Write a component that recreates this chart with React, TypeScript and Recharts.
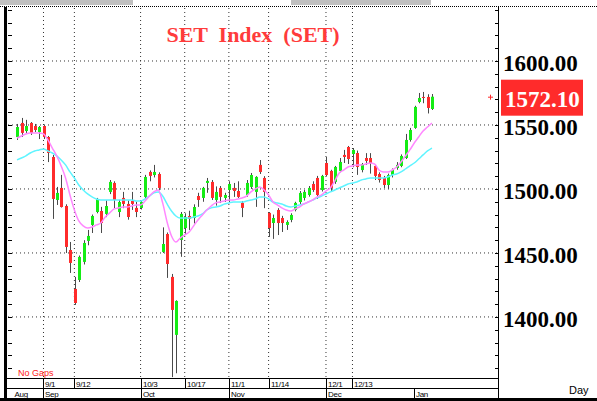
import { ComposedChart, Bar, Line, XAxis, YAxis, CartesianGrid, ReferenceLine } from "recharts"

// trading days, Aug 2016 - Jan 2017
const dates = [
  "8/24", "8/25", "8/26", "8/29", "8/30", "8/31", "9/1", "9/2", "9/5", "9/6",
  "9/7", "9/8", "9/9", "9/12", "9/13", "9/14", "9/15", "9/16", "9/19", "9/20",
  "9/21", "9/22", "9/23", "9/26", "9/27", "9/28", "9/29", "9/30", "10/3", "10/4",
  "10/5", "10/6", "10/7", "10/10", "10/11", "10/12", "10/13", "10/14", "10/17", "10/18",
  "10/19", "10/20", "10/21", "10/25", "10/26", "10/27", "10/28", "10/31", "11/1", "11/2",
  "11/3", "11/4", "11/7", "11/8", "11/9", "11/10", "11/11", "11/14", "11/15", "11/16",
  "11/17", "11/18", "11/21", "11/22", "11/23", "11/24", "11/25", "11/28", "11/29", "11/30",
  "12/1", "12/2", "12/6", "12/7", "12/8", "12/9", "12/13", "12/14", "12/15", "12/16",
  "12/19", "12/20", "12/21", "12/22", "12/23", "12/26", "12/27", "12/28", "12/29", "12/30",
  "1/3", "1/4", "1/5", "1/6", "1/9",
]

const opens = [
  1540.6, 1551.6, 1545.3, 1551.6, 1549.2, 1544.5, 1549.2, 1540.6, 1525.0, 1491.4,
  1500.8, 1486.7, 1452.3, 1421.9, 1428.9, 1443.0, 1459.4, 1471.9, 1482.0, 1482.8,
  1480.5, 1497.7, 1504.7, 1482.0, 1493.0, 1488.3, 1490.6, 1485.2, 1485.2, 1493.8,
  1513.3, 1510.9, 1511.7, 1450.8, 1464.8, 1431.3, 1386.0, 1460.2, 1469.5, 1478.9,
  1477.3, 1494.5, 1493.0, 1504.7, 1505.5, 1491.4, 1500.8, 1493.0, 1499.2, 1500.8,
  1498.4, 1489.1, 1495.3, 1501.6, 1497.7, 1518.8, 1508.6, 1481.3, 1473.4, 1483.6,
  1477.3, 1471.9, 1475.8, 1483.6, 1489.8, 1493.0, 1495.3, 1503.9, 1508.6, 1499.2,
  1520.3, 1514.1, 1505.5, 1514.1, 1526.6, 1532.8, 1527.3, 1528.1, 1514.8, 1524.2,
  1524.2, 1518.0, 1511.7, 1508.6, 1503.1, 1510.9, 1516.4, 1518.0, 1524.2, 1538.3,
  1547.7, 1568.0, 1571.9, 1571.9, 1562.5,
]

const highs = [
  1550.8, 1555.5, 1554.0, 1552.3, 1550.8, 1549.2, 1550.0, 1541.4, 1526.6, 1501.6,
  1511.0, 1488.0, 1458.6, 1431.3, 1448.0, 1460.0, 1468.0, 1480.0, 1493.0, 1486.0,
  1491.0, 1507.0, 1506.0, 1491.5, 1497.7, 1491.0, 1497.7, 1490.0, 1491.0, 1511.0,
  1514.5, 1518.8, 1513.0, 1470.0, 1466.0, 1433.6, 1413.0, 1482.0, 1481.0, 1483.0,
  1488.0, 1497.0, 1501.6, 1508.6, 1507.0, 1502.0, 1502.3, 1497.0, 1506.0, 1504.7,
  1506.0, 1490.6, 1507.0, 1512.5, 1510.0, 1522.6, 1510.0, 1482.0, 1480.0, 1485.0,
  1479.0, 1475.5, 1481.0, 1490.0, 1498.4, 1499.2, 1502.3, 1506.0, 1510.2, 1511.0,
  1525.0, 1515.0, 1518.0, 1524.2, 1530.5, 1533.6, 1532.0, 1530.0, 1520.3, 1528.0,
  1528.0, 1519.5, 1513.0, 1510.2, 1512.0, 1516.0, 1521.0, 1527.0, 1543.0, 1547.7,
  1565.0, 1575.0, 1575.8, 1574.0, 1574.2,
]

const lows = [
  1538.3, 1540.6, 1543.8, 1542.2, 1544.5, 1539.0, 1539.0, 1521.0, 1476.6, 1487.5,
  1485.5, 1450.0, 1434.4, 1409.4, 1427.3, 1441.0, 1456.0, 1465.6, 1481.0, 1465.6,
  1478.0, 1496.0, 1485.0, 1478.0, 1485.0, 1476.0, 1483.6, 1478.0, 1484.0, 1492.0,
  1506.0, 1509.0, 1499.0, 1450.0, 1430.5, 1353.0, 1356.0, 1447.0, 1464.0, 1468.0,
  1473.0, 1486.0, 1490.0, 1497.0, 1491.4, 1487.0, 1489.0, 1489.8, 1489.0, 1493.8,
  1493.0, 1478.0, 1494.0, 1500.0, 1486.0, 1511.7, 1485.0, 1462.5, 1461.0, 1464.0,
  1466.4, 1468.0, 1474.0, 1482.5, 1488.3, 1491.0, 1494.0, 1497.7, 1492.2, 1498.0,
  1510.0, 1497.7, 1504.0, 1513.0, 1520.3, 1519.5, 1517.0, 1511.0, 1513.0, 1518.8,
  1512.0, 1507.0, 1505.0, 1500.8, 1500.0, 1509.0, 1515.0, 1517.0, 1523.4, 1537.0,
  1547.0, 1567.0, 1567.0, 1559.0, 1561.7,
]

const closes = [
  1548.4, 1543.8, 1549.2, 1543.8, 1546.1, 1548.4, 1540.6, 1528.1, 1492.2, 1496.9,
  1485.9, 1454.7, 1442.2, 1410.9, 1446.9, 1457.8, 1463.3, 1478.9, 1492.2, 1473.4,
  1486.7, 1505.5, 1491.4, 1489.8, 1488.3, 1478.1, 1488.3, 1482.0, 1489.8, 1509.4,
  1510.2, 1513.3, 1500.8, 1457.0, 1441.4, 1405.5, 1412.5, 1480.5, 1478.1, 1476.6,
  1485.9, 1491.4, 1500.8, 1506.3, 1493.0, 1497.7, 1493.8, 1495.3, 1503.9, 1498.4,
  1493.8, 1485.2, 1504.7, 1510.9, 1509.4, 1513.3, 1497.7, 1469.5, 1477.3, 1473.4,
  1473.4, 1474.2, 1479.7, 1489.1, 1496.9, 1497.7, 1500.8, 1499.2, 1495.3, 1510.2,
  1510.9, 1500.8, 1517.2, 1521.1, 1525.0, 1523.4, 1530.5, 1517.2, 1519.5, 1521.9,
  1520.3, 1510.2, 1507.0, 1503.1, 1510.9, 1514.8, 1518.8, 1525.8, 1538.3, 1546.1,
  1564.1, 1571.1, 1571.1, 1563.3, 1572.1,
]

// short moving average (pink)
const maShort = [
  1539.8, 1541.4, 1543.0, 1543.8, 1543.8, 1543.8, 1543.0, 1538.3, 1532.0, 1525.8,
  1518.0, 1508.6, 1495.3, 1483.6, 1475.0, 1471.1, 1469.5, 1470.3, 1471.9, 1473.4,
  1478.1, 1481.3, 1484.4, 1485.2, 1485.9, 1485.9, 1486.7, 1487.5, 1487.5, 1490.6,
  1494.5, 1497.7, 1499.2, 1489.1, 1474.2, 1463.3, 1458.6, 1461.7, 1464.1, 1466.4,
  1471.1, 1475.8, 1479.7, 1483.6, 1486.7, 1489.1, 1489.8, 1490.6, 1491.4, 1491.4,
  1492.2, 1493.0, 1494.5, 1497.7, 1500.0, 1501.6, 1499.2, 1495.3, 1489.8, 1487.5,
  1485.2, 1483.6, 1482.8, 1484.4, 1485.9, 1488.3, 1489.8, 1491.4, 1493.8, 1495.3,
  1498.4, 1500.8, 1506.3, 1512.5, 1514.8, 1517.2, 1518.0, 1518.8, 1518.8, 1519.5,
  1520.3, 1519.5, 1514.8, 1513.3, 1513.3, 1514.8, 1517.2, 1521.1, 1525.8, 1530.5,
  1535.9, 1540.6, 1545.3, 1548.4, 1551.6,
]

// long moving average (cyan)
const maLong = [
  1522.7, 1524.2, 1525.8, 1528.1, 1529.7, 1530.5, 1531.3, 1529.7, 1528.1, 1525.8,
  1522.7, 1518.8, 1513.3, 1508.6, 1503.1, 1499.2, 1496.1, 1493.8, 1492.2, 1491.4,
  1491.4, 1491.4, 1491.4, 1491.4, 1491.4, 1491.4, 1491.4, 1490.6, 1490.6, 1492.2,
  1494.5, 1496.9, 1497.7, 1494.5, 1488.3, 1482.8, 1478.9, 1477.3, 1477.3, 1477.3,
  1478.1, 1478.9, 1480.5, 1483.6, 1485.2, 1485.9, 1486.7, 1488.3, 1489.1, 1489.8,
  1489.8, 1489.8, 1490.6, 1491.4, 1492.2, 1493.8, 1493.8, 1492.2, 1489.8, 1489.1,
  1488.3, 1486.7, 1485.9, 1486.7, 1487.5, 1488.3, 1489.8, 1491.4, 1493.0, 1494.5,
  1496.1, 1497.7, 1499.2, 1500.8, 1502.3, 1503.9, 1504.7, 1505.5, 1507.0, 1507.8,
  1508.6, 1508.6, 1508.6, 1508.6, 1509.4, 1510.9, 1511.7, 1513.3, 1515.6, 1518.0,
  1520.3, 1523.4, 1526.6, 1529.7, 1532.0,
]

const dayLabels = ["9/1", "9/12", "10/3", "10/17", "11/1", "11/14", "12/1", "12/13"]
const monthLabels = ["Aug", "Sep", "Oct", "Nov", "Dec", "Jan"]
const monthStarts = ["8/24", "9/1", "10/3", "11/1", "12/1", "1/3"]
const priceLabels = [1400, 1450, 1500, 1550, 1600]
const minorTicks = Array.from({ length: 29 }, (_, k) => 1360 + k * 10)

const Y_DOMAIN: [number, number] = [1352.3, 1641.4]
const X_DOMAIN: [number, number] = [-2.04, 109.2]

const GREEN = "#14ec14"
const RED = "#ff2b2b"

const data = dates.map((d, i) => ({
  i,
  date: d,
  open: opens[i],
  high: highs[i],
  low: lows[i],
  close: closes[i],
  range: [lows[i], highs[i]],
  maShort: maShort[i],
  maLong: maLong[i],
}))

const dayTickIdx = dayLabels.map((l) => dates.indexOf(l))
const monthTickIdx = monthStarts.map((l) => dates.indexOf(l))
const lastClose = closes[closes.length - 1]

const Candle = (props: any) => {
  const { x, y, width, height, payload } = props
  if (x == null || payload == null) return null
  const { open, close, high, low } = payload
  const h = Math.abs(height)
  const top = height >= 0 ? y : y + height
  const k = h / (high - low || 1)
  const py = (v: number) => top + (high - v) * k
  const cx = Math.round(x + width / 2)
  const up = close >= open
  const bTop = py(Math.max(open, close))
  const bH = Math.max(1, Math.abs(py(open) - py(close)))
  return (
    <g>
      <line x1={cx + 0.5} x2={cx + 0.5} y1={top} y2={top + h} stroke="#4a4a4a" strokeWidth={1} />
      <rect x={cx - 1} y={bTop} width={3} height={bH} fill={up ? GREEN : RED} />
    </g>
  )
}

const RightTick = (props: any) => {
  const { x, y, payload } = props
  const v = payload.value as number
  const yy = Math.round(y) + 0.5
  return (
    <g>
      <line x1={x - 4} x2={x} y1={yy} y2={yy} stroke="#000" />
      {v % 50 === 0 && (
        <text x={x + 4} y={y + 10} fontFamily="'Liberation Serif', serif" fontWeight="bold" fontSize={23} fill="#000">
          {v.toFixed(2)}
        </text>
      )}
    </g>
  )
}

const LeftTick = (props: any) => {
  const { x, y } = props
  const yy = Math.round(y) + 0.5
  return <line x1={x} x2={x + 4} y1={yy} y2={yy} stroke="#000" />
}

const DayTick = (props: any) => {
  const { x, y, payload } = props
  const lx = Math.round(x) + 0.5
  return (
    <g>
      <line x1={lx} x2={lx} y1={y} y2={y + 10} stroke="#000" />
      <text x={lx + 1.5} y={y + 8.5} fontFamily="'Liberation Sans', sans-serif" fontSize={8} letterSpacing={-0.3} fill="#000">
        {dates[payload.value]}
      </text>
    </g>
  )
}

const MonthTick = (props: any) => {
  const { x, y, payload, index } = props
  const lx = Math.round(x) + 0.5
  const first = index === 0
  return (
    <g>
      {!first && <line x1={lx} x2={lx} y1={y} y2={y + 10} stroke="#000" />}
      <text x={first ? lx - 3 : lx + 1.5} y={y + 8.5} fontFamily="'Liberation Sans', sans-serif" fontSize={8} letterSpacing={-0.3} fill="#000">
        {monthLabels[monthTickIdx.indexOf(payload.value)]}
      </text>
    </g>
  )
}

const PriceTag = (props: any) => {
  const vb = props.viewBox
  if (!vb) return null
  const x = vb.x + vb.width
  const y = vb.y
  return (
    <g>
      <line x1={x - 11} x2={x - 6} y1={y + 0.5} y2={y + 0.5} stroke={RED} />
      <line x1={x - 8.5} x2={x - 8.5} y1={y - 2} y2={y + 3} stroke={RED} />
      <rect x={x + 2} y={y - 17} width={82} height={36} fill={RED} />
      <text x={x + 6} y={y + 10} fontFamily="'Liberation Serif', serif" fontWeight="bold" fontSize={23} fill="#fff">
        {lastClose.toFixed(2)}
      </text>
    </g>
  )
}

export default function App() {
  return (
    <div style={{ position: "relative", width: 597, height: 401, background: "#fff", overflow: "hidden" }}>
      <style>{"body{margin:0}"}</style>
      <ComposedChart width={597} height={401} data={data} margin={{ top: 8, right: 0, bottom: 3, left: 0 }}>
        <CartesianGrid
          xAxisId="d"
          yAxisId="r"
          horizontalValues={priceLabels}
          verticalValues={dayTickIdx}
          stroke="#333"
          strokeDasharray="1 3"
        />
        <XAxis
          xAxisId="d"
          dataKey="i"
          type="number"
          domain={X_DOMAIN}
          allowDataOverflow
          ticks={dayTickIdx}
          interval={0}
          height={10}
          axisLine={false}
          tickLine={false}
          tickSize={0}
          tickMargin={0}
          tick={<DayTick />}
        />
        <XAxis
          xAxisId="m"
          dataKey="i"
          type="number"
          domain={X_DOMAIN}
          allowDataOverflow
          ticks={monthTickIdx}
          interval={0}
          height={10}
          axisLine={false}
          tickLine={false}
          tickSize={0}
          tickMargin={0}
          tick={<MonthTick />}
        />
        <YAxis
          yAxisId="l"
          orientation="left"
          width={8}
          type="number"
          domain={Y_DOMAIN}
          allowDataOverflow
          ticks={minorTicks}
          interval={0}
          axisLine={false}
          tickLine={false}
          tickSize={0}
          tickMargin={0}
          tick={<LeftTick />}
        />
        <YAxis
          yAxisId="r"
          orientation="right"
          width={98}
          type="number"
          domain={Y_DOMAIN}
          allowDataOverflow
          ticks={minorTicks}
          interval={0}
          axisLine={false}
          tickLine={false}
          tickSize={0}
          tickMargin={0}
          tick={<RightTick />}
        />
        <Bar xAxisId="d" yAxisId="r" dataKey="range" barSize={3} shape={<Candle />} isAnimationActive={false} />
        <Line xAxisId="d" yAxisId="r" type="monotone" dataKey="maLong" stroke="#5ff4ff" strokeWidth={1.5} dot={false} isAnimationActive={false} />
        <Line xAxisId="d" yAxisId="r" type="monotone" dataKey="maShort" stroke="#ff88ff" strokeWidth={1.5} dot={false} isAnimationActive={false} />
        <ReferenceLine xAxisId="d" yAxisId="r" y={lastClose} stroke="none" label={<PriceTag />} />
      </ComposedChart>
      <svg width={597} height={401} style={{ position: "absolute", left: 0, top: 0, pointerEvents: "none" }}>
        <rect x={0} y={0} width={133} height={5} fill="#c0c0c0" />
        <rect x={291} y={0} width={140} height={5} fill="#c0c0c0" />
        <line x1={0} x2={597} y1={6.5} y2={6.5} stroke="#000" strokeDasharray="1 1" />
        <rect x={4} y={7} width={3} height={394} fill="#000" />
        <line x1={498.5} x2={498.5} y1={7} y2={398} stroke="#000" />
        <line x1={7} x2={499} y1={378.5} y2={378.5} stroke="#000" />
        <line x1={7} x2={499} y1={388.5} y2={388.5} stroke="#000" />
        <rect x={0} y={398} width={597} height={3} fill="#000" />
        <text
          x={253}
          y={42}
          textAnchor="middle"
          fontFamily="'Liberation Serif', serif"
          fontWeight="bold"
          fontSize={22}
          fill="#ff3b3b"
          style={{ whiteSpace: "pre" }}
        >
          {"SET  Index  (SET)"}
        </text>
        <text x={18} y={376} fontFamily="'Liberation Sans', sans-serif" fontSize={9} fill="#ff2020">
          No Gaps
        </text>
        <text x={569} y={394} fontFamily="'Liberation Sans', sans-serif" fontSize={11} fill="#000">
          Day
        </text>
      </svg>
    </div>
  )
}
